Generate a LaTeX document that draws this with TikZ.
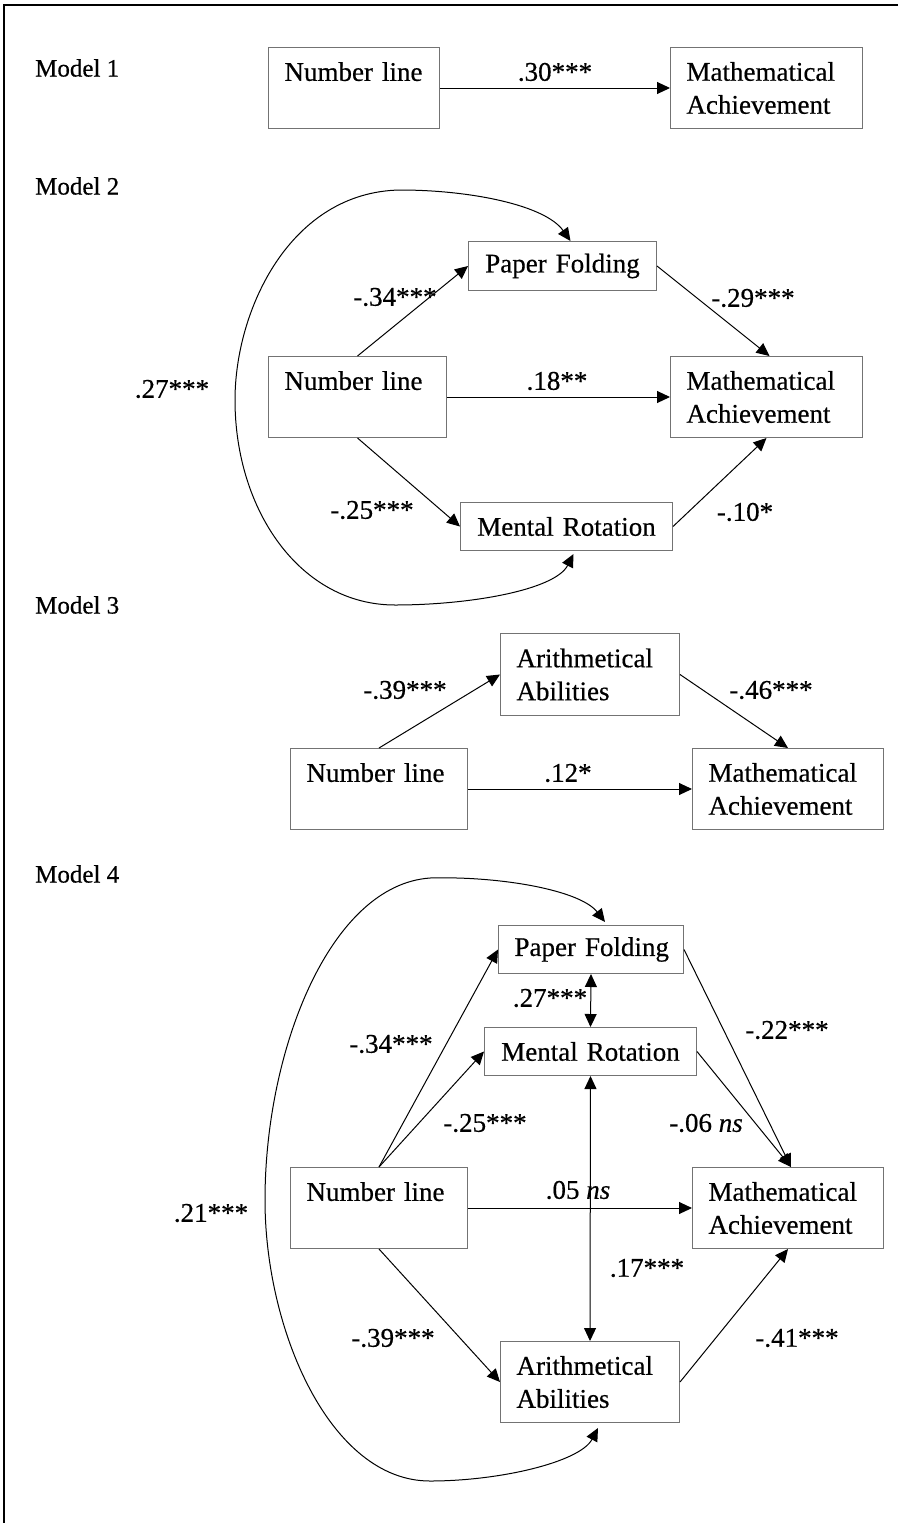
\documentclass[tikz,border=0pt]{standalone}
\usepackage{fontspec}
\setmainfont{Liberation Serif}[FakeBold=0.5]
\usetikzlibrary{arrows.meta}
\begin{document}
\begin{tikzpicture}[x=1pt,y=-1pt,
  box/.style={draw=black!55, line width=1pt, rectangle, inner xsep=16pt, inner ysep=0pt,
    font=\fontsize{27}{33}\selectfont, anchor=north west},
  twol/.style={align=left},
  onel/.style={align=center},
  lab/.style={font=\fontsize{27}{30}\selectfont, inner sep=0pt},
  mlab/.style={font=\fontsize{25}{30}\selectfont, inner sep=0pt, anchor=west},
  arr/.style={-{Triangle[length=13pt,width=12pt]}, line width=1pt},
  darr/.style={{Triangle[length=13pt,width=12pt]}-{Triangle[length=13pt,width=12pt]}, line width=1pt},
  frame/.style={line width=1.6pt}]
\useasboundingbox (0,0) rectangle (898,1523);
\coordinate (ftr) at (898,5);
\coordinate (ftl) at (4,5);
\coordinate (fbl) at (4,1523);
\draw[frame] (ftr) -- (ftl) -- (fbl);

% Model 1
\node[mlab] (m1) at (35,68) {Model 1};
\node[box,twol,text width=139pt,minimum height=81pt] (nl1) at (268,47) {\mbox{Number line}\\\mbox{}};
\node[box,twol,text width=160pt,minimum height=81pt] (ma1) at (670,47) {\mbox{Mathematical}\\\mbox{Achievement}};
\draw[arr] (nl1.east) -- (ma1.west);
\node[lab] (l11) at (555,72) {.30***};

% Model 2
\node[mlab] (m2) at (35,186) {Model 2};
\node[box,onel,text width=156pt,minimum height=49pt] (pf2) at (468,241) {\mbox{Paper Folding}};
\node[box,twol,text width=146pt,minimum height=81pt] (nl2) at (268,356) {\mbox{Number line}\\\mbox{}};
\node[box,twol,text width=160pt,minimum height=81pt] (ma2) at (670,356) {\mbox{Mathematical}\\\mbox{Achievement}};
\node[box,onel,text width=180pt,minimum height=48pt] (mr2) at (460,502) {\mbox{Mental Rotation}};
\draw[arr] (nl2.north) -- (pf2.west);
\draw[arr] (pf2.east) -- ([xshift=3pt]ma2.north);
\draw[arr] (nl2.east) -- (ma2.west);
\draw[arr] (nl2.south) -- (mr2.west);
\draw[arr] (mr2.east) -- (ma2.south);
\draw[darr] ([xshift=8pt]pf2.north) .. controls (545,205) and (470,190) .. (400,190)
  .. controls (290,192) and (235,310) .. (235,400)
  .. controls (235,510) and (300,605) .. (395,605)
  .. controls (470,605) and (555,590) .. ([xshift=7pt,yshift=-3pt]mr2.south);
\node[lab] (l21) at (395,297) {-.34***};
\node[lab] (l22) at (753,298) {-.29***};
\node[lab] (l23) at (557,381) {.18**};
\node[lab] (l24) at (372,510) {-.25***};
\node[lab] (l25) at (745,512) {-.10*};
\node[lab] (l26) at (172,389) {.27***};

% Model 3
\node[mlab] (m3) at (35,605) {Model 3};
\node[box,twol,text width=147pt,minimum height=82pt] (aa3) at (500,633) {\mbox{Arithmetical}\\\mbox{Abilities}};
\node[box,twol,text width=145pt,minimum height=81pt] (nl3) at (290,748) {\mbox{Number line}\\\mbox{}};
\node[box,twol,text width=159pt,minimum height=81pt] (ma3) at (692,748) {\mbox{Mathematical}\\\mbox{Achievement}};
\draw[arr] (nl3.north) -- (aa3.west);
\draw[arr] (aa3.east) -- (ma3.north);
\draw[arr] (nl3.east) -- (ma3.west);
\node[lab] (l31) at (405,690) {-.39***};
\node[lab] (l32) at (771,690) {-.46***};
\node[lab] (l33) at (568,773) {.12*};

% Model 4
\node[mlab] (m4) at (35,874) {Model 4};
\node[box,onel,text width=153pt,minimum height=48pt] (pf4) at (498,925) {\mbox{Paper Folding}};
\node[box,onel,text width=180pt,minimum height=48pt] (mr4) at (484,1027) {\mbox{Mental Rotation}};
\node[box,twol,text width=145pt,minimum height=81pt] (nl4) at (290,1167) {\mbox{Number line}\\\mbox{}};
\node[box,twol,text width=159pt,minimum height=81pt] (ma4) at (692,1167) {\mbox{Mathematical}\\\mbox{Achievement}};
\node[box,twol,text width=147pt,minimum height=81pt] (aa4) at (500,1341) {\mbox{Arithmetical}\\\mbox{Abilities}};
\draw[arr] (nl4.north) -- (pf4.west);
\draw[arr] (nl4.north) -- (mr4.west);
\draw[darr] (pf4.south) -- (mr4.north);
\draw[darr] (mr4.south) -- (aa4.north);
\draw[arr] (nl4.east) -- (ma4.west);
\draw[arr] (pf4.east) -- ([xshift=3pt]ma4.north);
\draw[arr] (mr4.east) -- ([xshift=3pt]ma4.north);
\draw[arr] (nl4.south) -- (aa4.west);
\draw[arr] (aa4.east) -- (ma4.south);
\draw[darr] ([xshift=14pt,yshift=3pt]pf4.north) .. controls (580,890) and (500,876) .. (430,878)
  .. controls (330,885) and (265,1050) .. (265,1200)
  .. controls (265,1330) and (330,1481) .. (430,1481)
  .. controls (500,1481) and (580,1462) .. ([xshift=8pt,yshift=-5pt]aa4.south);
\node[lab] (l41) at (391,1044) {-.34***};
\node[lab] (l42) at (485,1123) {-.25***};
\node[lab] (l43) at (550,998) {.27***};
\node[lab] (l44) at (787,1030) {-.22***};
\node[lab] (l45) at (706,1123) {-.06 \textit{ns}};
\node[lab] (l46) at (578,1190) {.05 \textit{ns}};
\node[lab] (l47) at (647,1268) {.17***};
\node[lab] (l48) at (393,1338) {-.39***};
\node[lab] (l49) at (797,1338) {-.41***};
\node[lab] (l410) at (211,1213) {.21***};
\end{tikzpicture}
\end{document}
